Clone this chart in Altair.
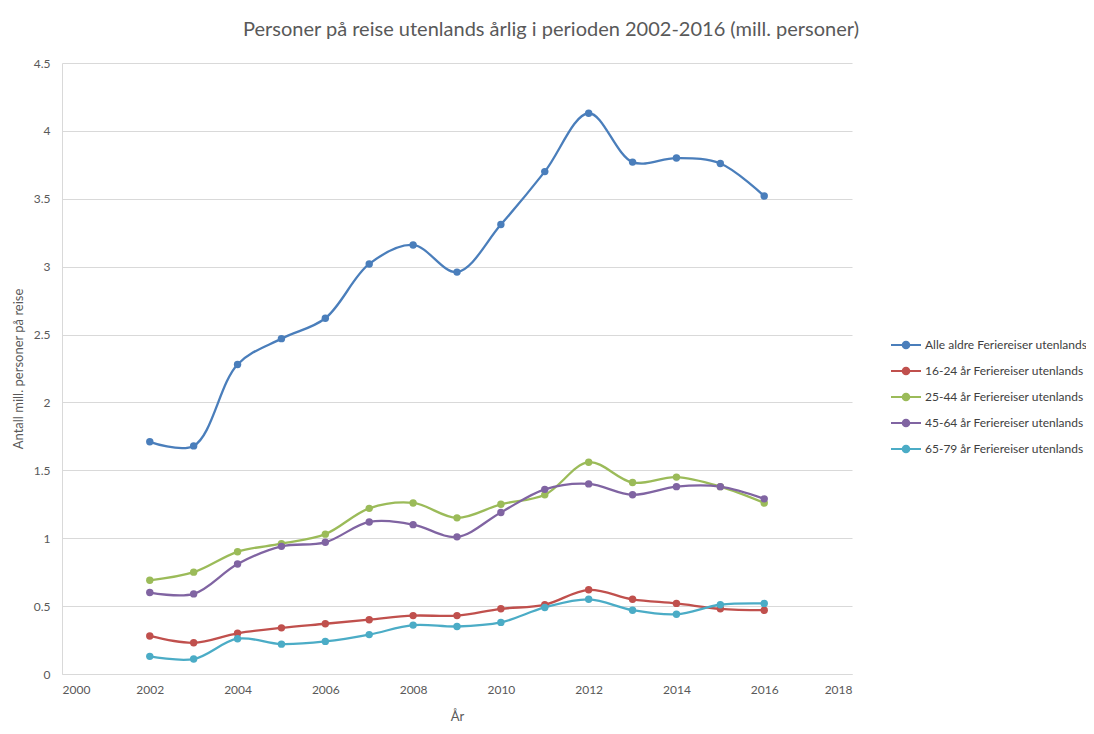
import altair as alt
import pandas as pd

years = list(range(2002, 2017))
series_names = [
    "Alle aldre Feriereiser utenlands",
    "16-24 år Feriereiser utenlands",
    "25-44 år Feriereiser utenlands",
    "45-64 år Feriereiser utenlands",
    "65-79 år Feriereiser utenlands",
]
alle = [1.71, 1.68, 2.28, 2.47, 2.62, 3.02, 3.16, 2.96, 3.31, 3.70, 4.13, 3.77, 3.80, 3.76, 3.52]
a16_24 = [0.28, 0.23, 0.30, 0.34, 0.37, 0.40, 0.43, 0.43, 0.48, 0.51, 0.62, 0.55, 0.52, 0.48, 0.47]
a25_44 = [0.69, 0.75, 0.90, 0.96, 1.03, 1.22, 1.26, 1.15, 1.25, 1.32, 1.56, 1.41, 1.45, 1.38, 1.26]
a45_64 = [0.60, 0.59, 0.81, 0.94, 0.97, 1.12, 1.10, 1.01, 1.19, 1.36, 1.40, 1.32, 1.38, 1.38, 1.29]
a65_79 = [0.13, 0.11, 0.26, 0.22, 0.24, 0.29, 0.36, 0.35, 0.38, 0.49, 0.55, 0.47, 0.44, 0.51, 0.52]
colors = ["#4A7EBB", "#C0504D", "#9BBB59", "#8064A2", "#4BACC6"]

rows = []
for name, vals in zip(series_names, [alle, a16_24, a25_44, a45_64, a65_79]):
    for y, v in zip(years, vals):
        rows.append({"År": y, "Verdi": v, "Serie": name})
df = pd.DataFrame(rows)

FONT = "Lato"
color = alt.Color(
    "Serie:N",
    scale=alt.Scale(domain=series_names, range=colors),
    sort=series_names,
    legend=alt.Legend(
        title=None,
        orient="none",
        legendX=828,
        legendY=266,
        symbolType="M-1,0H1M-0.22,0A0.22,0.22 0 1,1 0.22,0A0.22,0.22 0 1,1 -0.22,0",
        symbolSize=900,
        symbolStrokeWidth=2,
        labelFont=FONT,
        labelFontSize=12,
        labelColor="#404040",
        rowPadding=2,
        labelOffset=3,
        labelLimit=300,
    ),
)

x = alt.X(
    "År:Q",
    scale=alt.Scale(domain=[2000, 2018], nice=False, zero=False),
    axis=alt.Axis(
        values=list(range(2000, 2019, 2)),
        format="d",
        title="År",
        grid=False,
        ticks=False,
        domainColor="#D9D9D9",
        labelPadding=10,
        titlePadding=15,
    ),
)
y = alt.Y(
    "Verdi:Q",
    scale=alt.Scale(domain=[0, 4.5], nice=False),
    axis=alt.Axis(
        values=[0, 0.5, 1, 1.5, 2, 2.5, 3, 3.5, 4, 4.5],
        format=".2~f",
        title="Antall mill. personer på reise",
        grid=True,
        gridColor="#D9D9D9",
        ticks=False,
        domainColor="#D9D9D9",
        labelPadding=12,
        titlePadding=8,
    ),
)

base = alt.Chart(df)
lines = base.mark_line(interpolate="catmull-rom", strokeWidth=2.3).encode(x=x, y=y, color=color)
points = base.mark_point(filled=True, size=55, opacity=1).encode(x=x, y=y, color=color)

chart = (
    alt.layer(lines, points)
    .properties(
        width=790,
        height=611,
        title=alt.Title(
            "Personer på reise utenlands årlig i perioden 2002-2016 (mill. personer)",
            font=FONT,
            fontSize=20,
            fontWeight="normal",
            color="#595959",
            dx=94,
            offset=17,
        ),
        autosize=alt.AutoSizeParams(type="none"),
        padding={"left": 54, "top": 55, "right": 234, "bottom": 50},
    )
    .configure_view(stroke=None)
    .configure_axis(
        labelFont=FONT,
        labelFontSize=12,
        labelColor="#595959",
        titleFont=FONT,
        titleFontSize=13,
        titleFontWeight="normal",
        titleColor="#595959",
    )
)

chart.save("out.html", embed_options={"renderer": "svg", "actions": False})
